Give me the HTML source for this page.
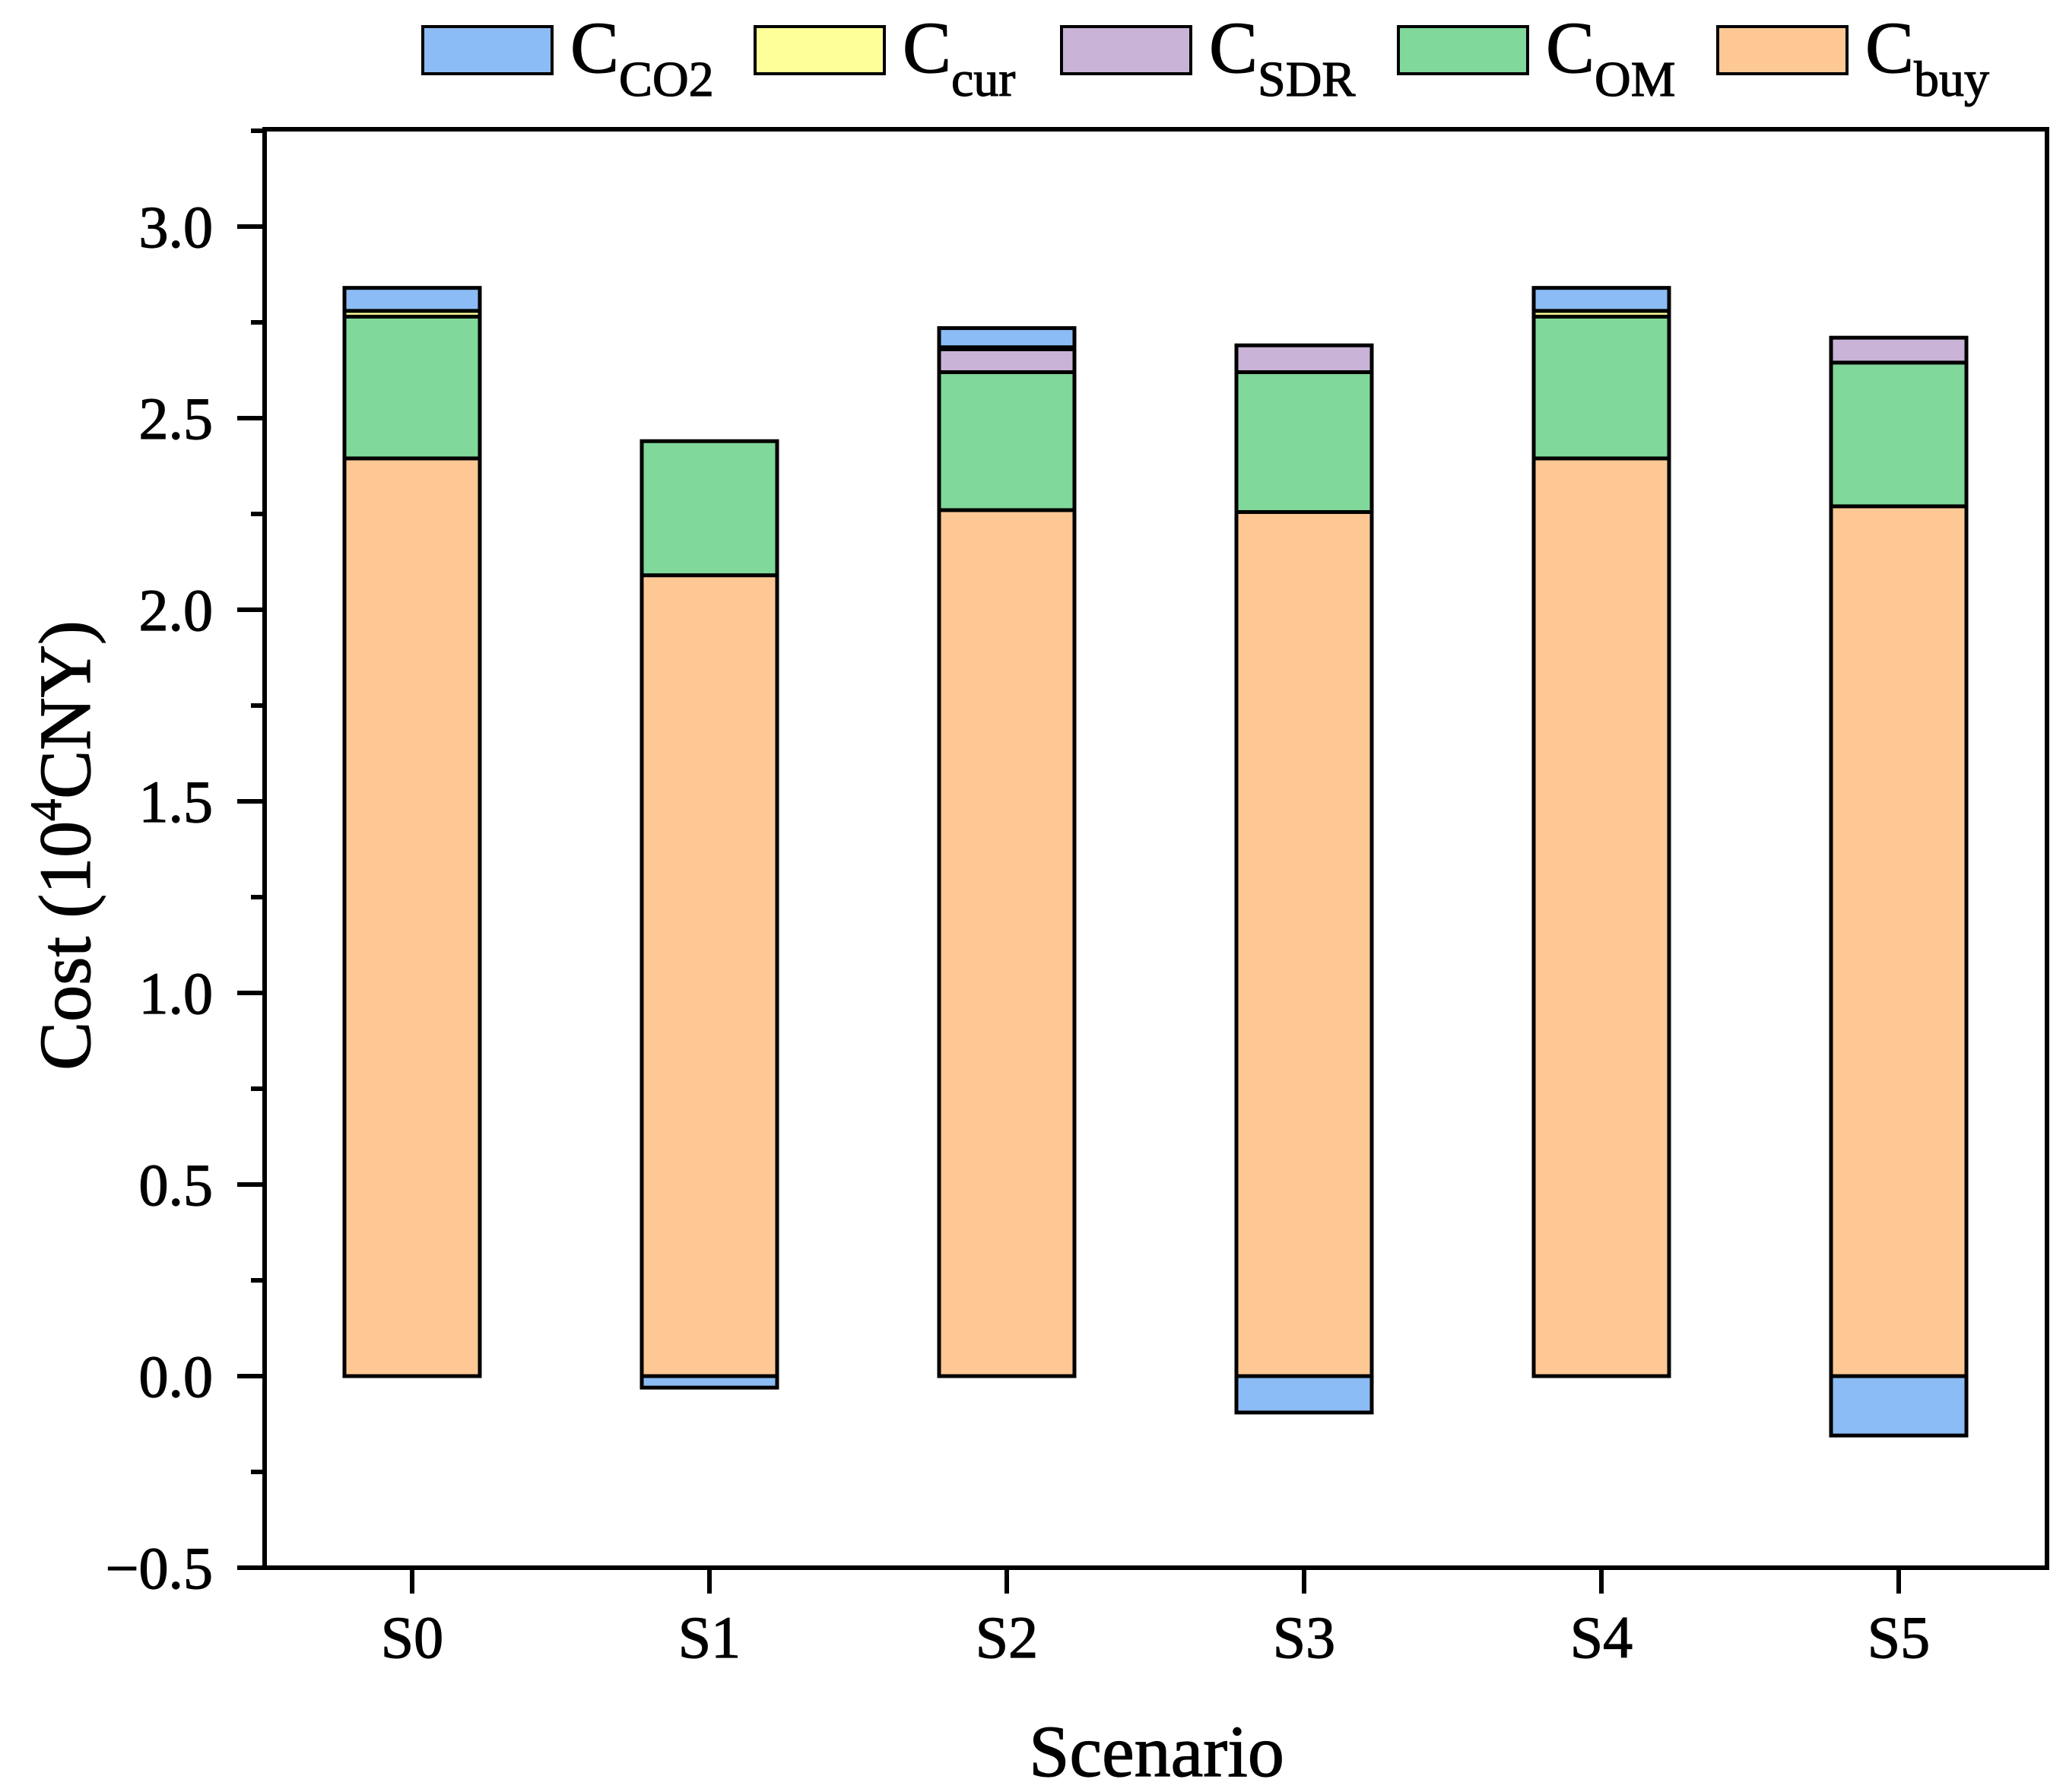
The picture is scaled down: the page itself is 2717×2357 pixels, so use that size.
<!DOCTYPE html>
<html><head><meta charset="utf-8"><style>
html,body{margin:0;padding:0;background:#fff;}
svg{display:block;font-family:"Liberation Serif","Times New Roman",serif;}
text{stroke:#000;stroke-width:1.2px;}
</style></head>
<body>
<svg id="chart" width="2717" height="2357" viewBox="0 0 2717 2357" xmlns="http://www.w3.org/2000/svg">
<g id="legend"></g>
<g id="bars"></g>
<g id="axes"></g>
<text transform="translate(118,1112) rotate(-90)" text-anchor="middle" font-size="96">Cost (10<tspan font-size="58" dy="-38">4</tspan><tspan dy="38">CNY)</tspan></text>
<text x="1521" y="2336" text-anchor="middle" font-size="96">Scenario</text>
</svg>
<script>
const categories = ["S0","S1","S2","S3","S4","S5"];
const cCO2 = [0.06, -0.03, 0.05, -0.095, 0.06, -0.155];
const cCur = [0.015, 0, 0.005, 0, 0.015, 0];
const cSDR = [0, 0, 0.06, 0.07, 0, 0.065];
const cOM = [0.37, 0.35, 0.36, 0.365, 0.37, 0.375];
const cBuy = [2.395, 2.09, 2.26, 2.255, 2.395, 2.27];
const yTicks = [-0.5, 0.0, 0.5, 1.0, 1.5, 2.0, 2.5, 3.0];
const yTickLabels = ["\u22120.5","0.0","0.5","1.0","1.5","2.0","2.5","3.0"];

const NS = "http://www.w3.org/2000/svg";
const L = 348, R = 2692, T = 170, B = 2062;
const Y0 = 1810, PER = 504;
function y(v){ return Y0 - v*PER; }
function x(i){ return 542 + i*391; }
const BW = 178;
function mk(tag, attrs, parent){
  const e = document.createElementNS(NS, tag);
  for (const k in attrs) e.setAttribute(k, attrs[k]);
  parent.appendChild(e); return e;
}
const bars = document.getElementById("bars");
const axes = document.getElementById("axes");
const legend = document.getElementById("legend");

const series = [
  {name:"buy", vals:cBuy, color:"#fec894"},
  {name:"om", vals:cOM, color:"#80d89a"},
  {name:"sdr", vals:cSDR, color:"#c9b3d6"},
  {name:"cur", vals:cCur, color:"#ffff99"},
  {name:"co2", vals:cCO2, color:"#8cbcf5"}
];
categories.forEach((c, i) => {
  let pos = 0, neg = 0;
  series.forEach(s => {
    const v = s.vals[i];
    if (v === 0) return;
    let a, b;
    if (v > 0) { a = pos; b = pos + v; pos = b; } else { a = neg; b = neg + v; neg = b; }
    const top = Math.min(y(a), y(b)), h = Math.abs(y(a) - y(b));
    const r = mk("rect", {x: x(i) - BW/2, y: top, width: BW, height: Math.max(h, 1), fill: s.color, stroke: "#000", "stroke-width": 5}, bars);
    
    
  });
});

const frame = mk("rect", {x: L, y: T, width: R - L, height: B - T, fill: "none", stroke: "#000", "stroke-width": 6}, axes);



for (let v = -0.5; v <= 3.25 + 1e-9; v += 0.25) {
  const major = Math.abs(v*2 - Math.round(v*2)) < 1e-6;
  const t = mk("line", {x1: L - (major ? 36 : 18), x2: L, y1: y(v), y2: y(v), stroke: "#000", "stroke-width": 6}, axes);
  
  
}
yTicks.forEach((v, k) => {
  const t = mk("text", {x: 280, y: y(v) + 27, "text-anchor": "end", "font-size": 78}, axes);
  t.textContent = yTickLabels[k];
  
  
});
categories.forEach((c, i) => {
  const t = mk("line", {x1: x(i), x2: x(i), y1: B, y2: B + 34, stroke: "#000", "stroke-width": 6}, axes);
  
  
  const lb = mk("text", {x: x(i), y: 2180, "text-anchor": "middle", "font-size": 78}, axes);
  lb.textContent = c;
  
  
});

const legendItems = [
  {sub:"CO2", color:"#8cbcf5", bx:556},
  {sub:"cur", color:"#ffff99", bx:993},
  {sub:"SDR", color:"#c9b3d6", bx:1396},
  {sub:"OM", color:"#80d89a", bx:1839},
  {sub:"buy", color:"#fec894", bx:2259}
];
legendItems.forEach(it => {
  const g = mk("g", {}, legend);
  
  
  mk("rect", {x: it.bx, y: 35, width: 170, height: 62, fill: it.color, stroke: "#000", "stroke-width": 4}, g);
  const t = mk("text", {x: it.bx + 194, y: 95, "font-size": 96}, g);
  t.textContent = "C";
  const s = mk("tspan", {"font-size": 66, dy: 31}, t);
  s.textContent = it.sub;
});
</script>
</body></html>
